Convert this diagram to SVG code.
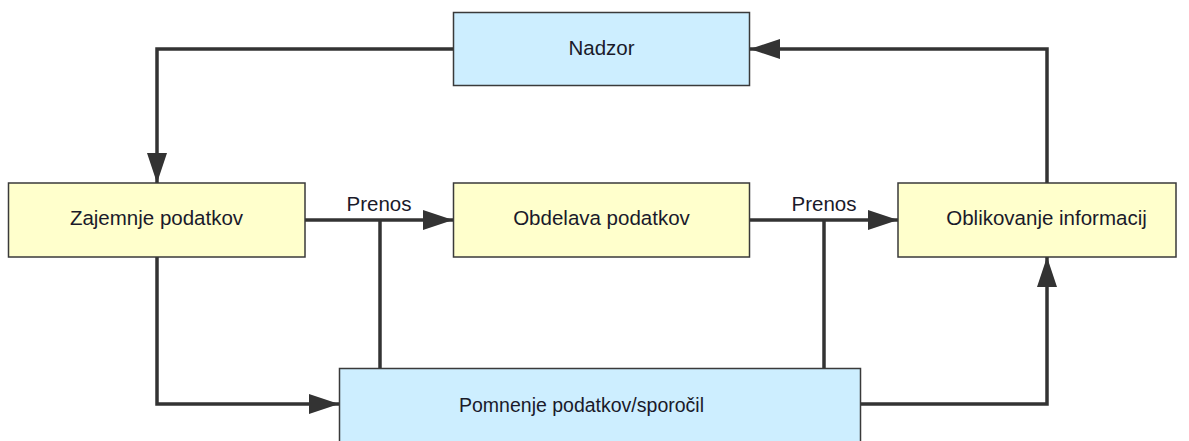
<svg xmlns="http://www.w3.org/2000/svg" width="1189" height="441" viewBox="0 0 1189 441">
  <style>
    .box { stroke: #3a3a3a; stroke-width: 1.5; }
    .blue { fill: #cdeeff; }
    .yellow { fill: #ffffcc; }
    .lbl { font-family: "Liberation Sans", Arial, sans-serif; font-size: 20.5px; fill: #1a1a2a; text-anchor: middle; }
    .wire { fill: none; stroke: #333333; stroke-width: 3.5; stroke-linejoin: miter; }
  </style>
  <defs>
    <marker id="arrow" markerUnits="userSpaceOnUse" markerWidth="30" markerHeight="20" refX="30" refY="10" orient="auto">
      <path d="M0,0 L30,10 L0,20 Z" fill="#333333"/>
    </marker>
  </defs>
  <rect width="1189" height="441" fill="#ffffff"/>

  <g id="connectors">
    <!-- control loop -->
    <polyline class="wire" points="453,49 157,49 157,183" marker-end="url(#arrow)"/>
    <polyline class="wire" points="1047,183 1047,49 750,49" marker-end="url(#arrow)"/>
    <!-- transfers -->
    <line class="wire" x1="305" y1="220" x2="453" y2="220" marker-end="url(#arrow)"/>
    <line class="wire" x1="749" y1="220" x2="898" y2="220" marker-end="url(#arrow)"/>
    <line class="wire" x1="380" y1="220" x2="380" y2="368"/>
    <line class="wire" x1="824" y1="220" x2="824" y2="368"/>
    <!-- storage paths -->
    <polyline class="wire" points="157,257 157,404 339,404" marker-end="url(#arrow)"/>
    <polyline class="wire" points="860,404 1047,404 1047,257" marker-end="url(#arrow)"/>
    <text class="lbl" x="379" y="211">Prenos</text>
    <text class="lbl" x="824" y="211">Prenos</text>
  </g>

  <g id="nadzor">
    <rect class="box blue" x="453.5" y="12.5" width="296" height="73"/>
    <text class="lbl" x="601.5" y="55">Nadzor</text>
  </g>
  <g id="zajemnje">
    <rect class="box yellow" x="8.5" y="183" width="296.5" height="74"/>
    <text class="lbl" x="156.5" y="225">Zajemnje podatkov</text>
  </g>
  <g id="obdelava">
    <rect class="box yellow" x="453.5" y="183" width="296" height="74"/>
    <text class="lbl" x="601.5" y="225">Obdelava podatkov</text>
  </g>
  <g id="oblikovanje">
    <rect class="box yellow" x="898" y="183" width="278" height="74"/>
    <text class="lbl" x="1046.5" y="225">Oblikovanje informacij</text>
  </g>
  <g id="pomnenje">
    <rect class="box blue" x="339.5" y="368.5" width="521" height="80"/>
    <text class="lbl" x="581.5" y="411.5" style="font-size:19.5px">Pomnenje podatkov/sporočil</text>
  </g>
</svg>
